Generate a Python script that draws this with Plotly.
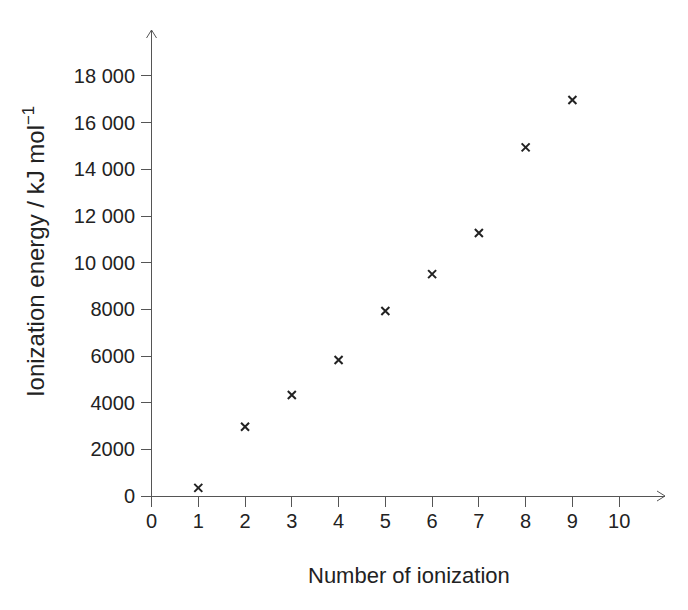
import plotly.graph_objects as go

ionization_number = [1, 2, 3, 4, 5, 6, 7, 8, 9]
ionization_energy = [350, 2970, 4330, 5830, 7930, 9510, 11270, 14940, 16970]

x_tick_vals = [0, 1, 2, 3, 4, 5, 6, 7, 8, 9, 10]
x_tick_text = [str(v) for v in x_tick_vals]
y_tick_vals = [0, 2000, 4000, 6000, 8000, 10000, 12000, 14000, 16000, 18000]
y_tick_text = ["0", "2000", "4000", "6000", "8000", "10 000", "12 000", "14 000", "16 000", "18 000"]

axis_color = "#555555"
text_color = "#222222"
font_family = "Liberation Sans, Arial, sans-serif"

fig = go.Figure()
fig.add_trace(go.Scatter(
    x=ionization_number, y=ionization_energy, mode="markers",
    marker=dict(symbol="x-thin", size=8, line=dict(width=2, color=text_color), color=text_color),
    showlegend=False, hoverinfo="x+y",
))

axis_common = dict(
    showgrid=False, showline=False, zeroline=True, zerolinecolor=axis_color, zerolinewidth=1,
    ticks="inside", ticklen=11, tickwidth=1, tickcolor=axis_color,
    tickfont=dict(family=font_family, size=20, color=text_color),
)
fig.update_xaxes(range=[-0.225, 10.98], tickvals=x_tick_vals, ticktext=x_tick_text, **axis_common)
fig.update_yaxes(range=[-471, 19971], tickvals=y_tick_vals, ticktext=y_tick_text, ticklabelstandoff=5, **axis_common)

# arrowheads on axes
fig.add_shape(type="path", xref="paper", yref="y", xsizemode="pixel", xanchor=1,
              ysizemode="pixel", yanchor=0,
              path="M-8,-5 L0,0 L-8,5", line=dict(color=axis_color, width=1))
fig.add_shape(type="path", xref="x", yref="paper", ysizemode="pixel", yanchor=1, xsizemode="pixel", xanchor=0,
              path="M-5,-8 L0,0 L5,-8", line=dict(color=axis_color, width=1))

fig.add_annotation(text="Ionization energy / kJ mol<sup>−1</sup>", xref="paper", yref="paper",
                   x=-0.204, y=0.5346, textangle=-90, showarrow=False, xanchor="center", yanchor="middle",
                   font=dict(family=font_family, size=24, color=text_color))
fig.add_annotation(text="Number of ionization", xref="paper", yref="paper",
                   x=0.5105, y=-0.1426, showarrow=False, xanchor="center", yanchor="middle",
                   font=dict(family=font_family, size=22, color=text_color))

fig.update_layout(
    width=688, height=610,
    margin=dict(l=141, r=23, t=30, b=103),
    paper_bgcolor="white", plot_bgcolor="white",
    font=dict(family=font_family, color=text_color),
)
fig.write_html("out.html")
